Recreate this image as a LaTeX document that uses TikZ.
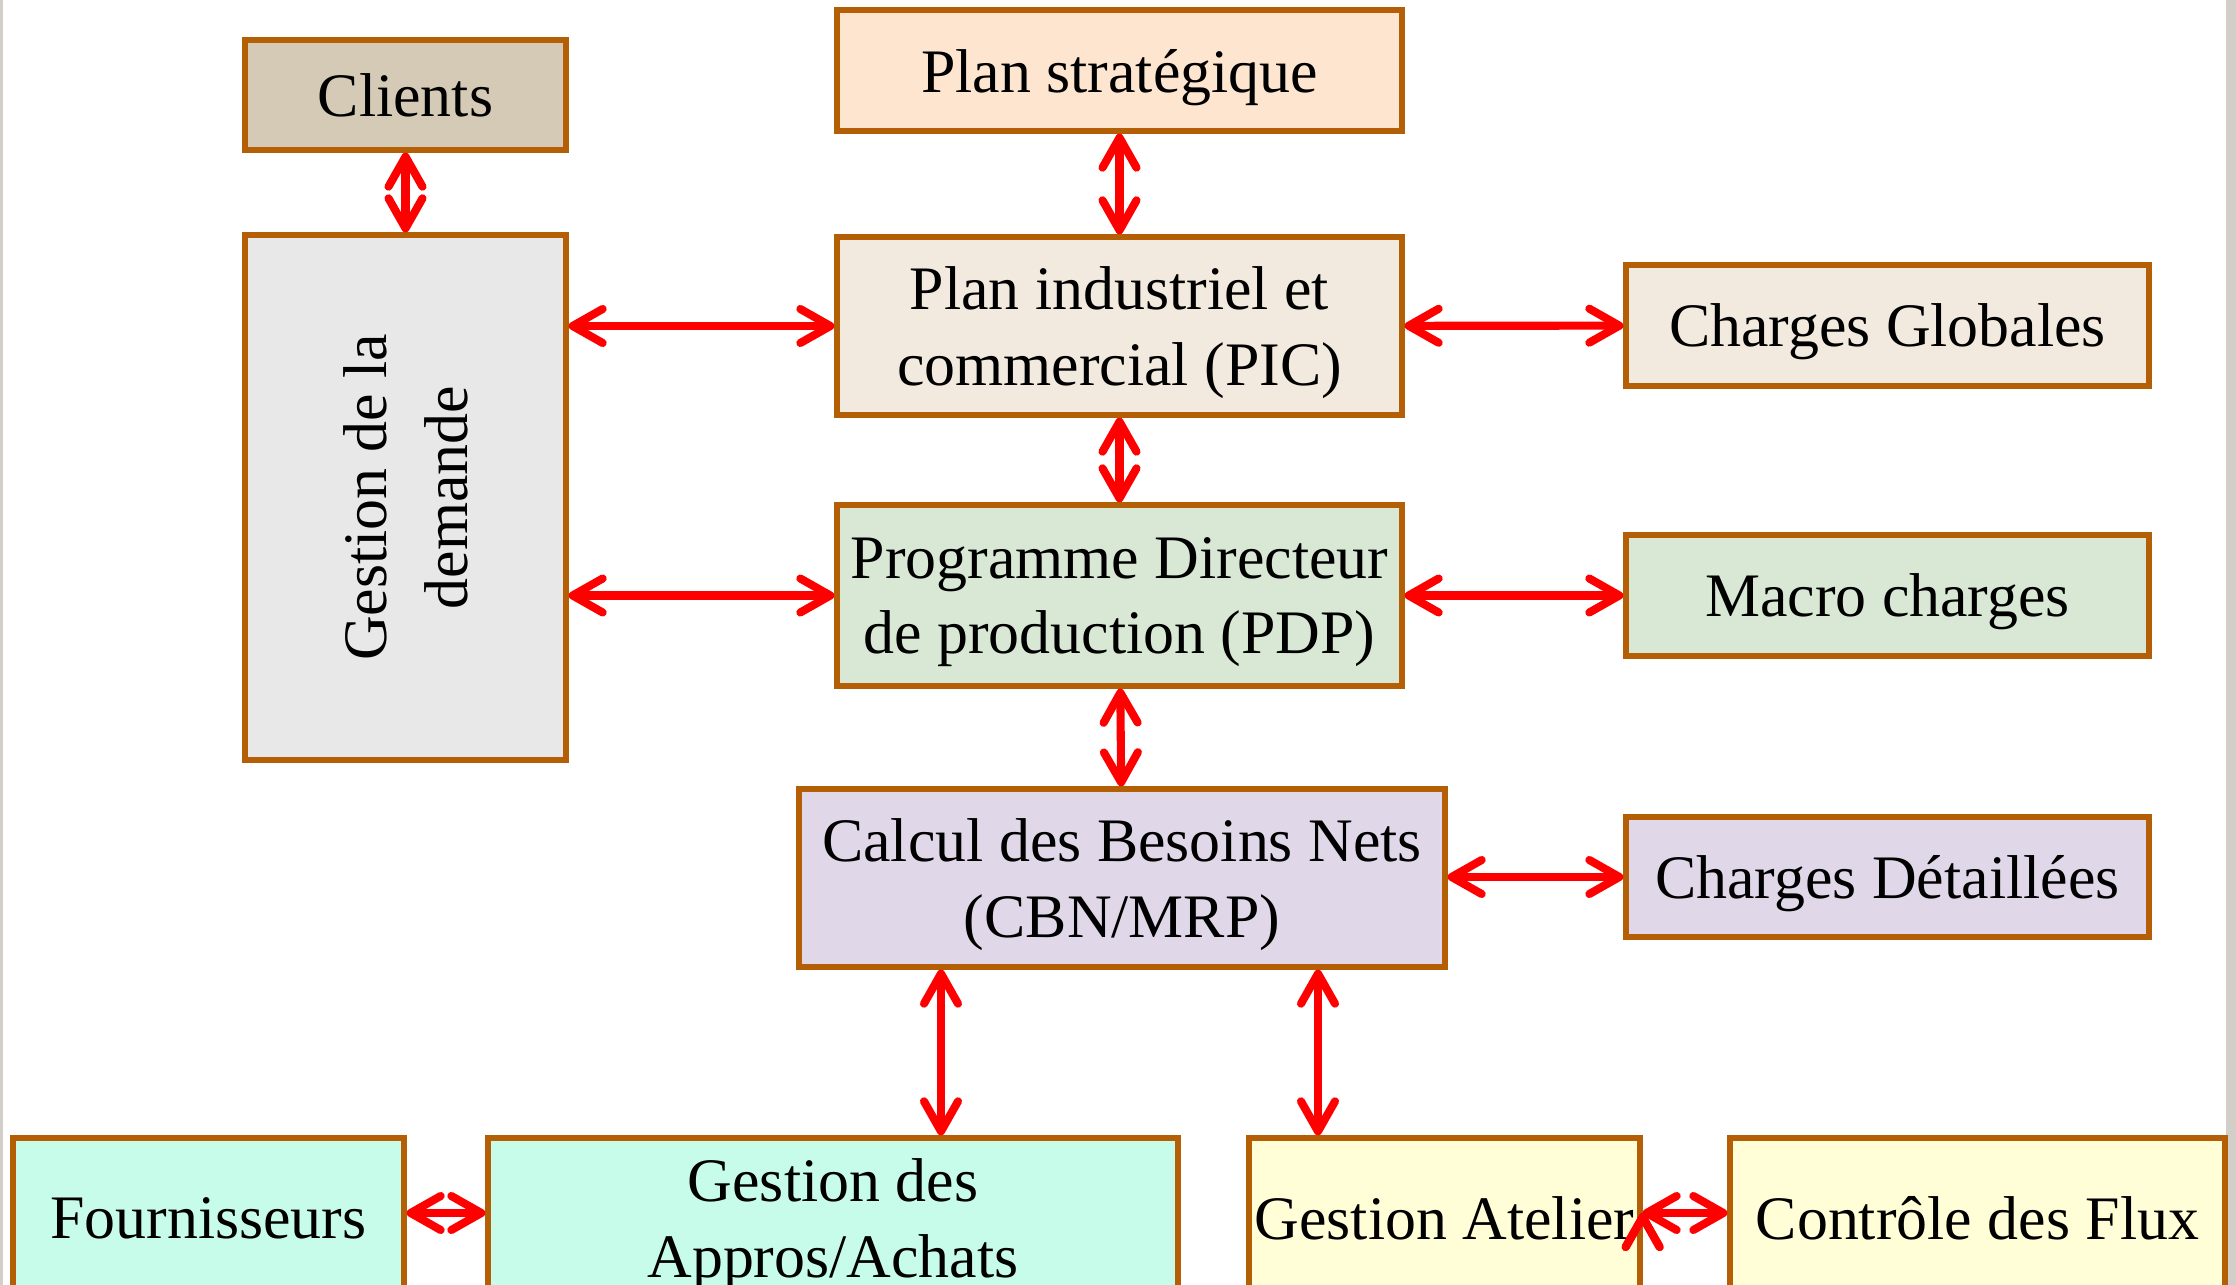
\documentclass[tikz,border=0pt]{standalone}
\usepackage{fontspec}
\setmainfont{Liberation Serif}
\usetikzlibrary{arrows.meta}

\definecolor{boxline}{RGB}{180,95,6}
\definecolor{clientfill}{RGB}{212,202,181}
\definecolor{stratfill}{RGB}{253,229,207}
\definecolor{demfill}{RGB}{232,232,232}
\definecolor{picfill}{RGB}{242,234,222}
\definecolor{pdpfill}{RGB}{216,232,213}
\definecolor{cbnfill}{RGB}{224,216,232}
\definecolor{achfill}{RGB}{200,252,234}
\definecolor{atelfill}{RGB}{255,254,214}
\definecolor{edgegray}{RGB}{210,206,200}

\begin{document}
\begin{tikzpicture}[x=1cm, y=1cm,
                    box/.style={rectangle, draw=boxline, line width=1.5pt, align=center,
                                inner sep=0pt, text depth=0pt, font=\fontsize{17.6}{21.5}\selectfont},
                    arr/.style={draw=red, line width=2.3pt,
                                {Straight Barb[length=0.3cm,width=0.34cm,round]}-{Straight Barb[length=0.3cm,width=0.34cm,round]}}]

  \useasboundingbox (0,0) rectangle (22.36,-12.85);
  \clip (0,0) rectangle (22.36,-12.85);

  % page edges
  \fill[edgegray] (0,0) rectangle (0.03,-12.85);
  \fill[edgegray] (22.26,0) rectangle (22.36,-12.85);

  % top rows
  \node[box, fill=clientfill, minimum width=3.21cm, minimum height=1.10cm] (clients) at (4.055,-0.95) {Clients};
  \node[box, fill=stratfill, minimum width=5.65cm, minimum height=1.21cm] (strat) at (11.195,-0.705) {Plan stratégique};
  \node[box, fill=demfill, minimum width=3.21cm, minimum height=5.25cm] (demande) at (4.055,-4.975) {};
  \node[font=\fontsize{17.6}{23}\selectfont, align=center, rotate=90] at (demande.center) {Gestion de la\\demande};
  \node[box, fill=picfill, minimum width=5.65cm, minimum height=1.78cm] (pic) at (11.195,-3.26) {Plan industriel et\\commercial (PIC)};
  \node[box, fill=picfill, minimum width=5.23cm, minimum height=1.21cm] (globales) at (18.875,-3.255) {Charges Globales};
  \node[box, fill=pdpfill, minimum width=5.65cm, minimum height=1.81cm] (pdp) at (11.195,-5.955) {Programme Directeur\\de production (PDP)};
  \node[box, fill=pdpfill, minimum width=5.23cm, minimum height=1.21cm] (macro) at (18.875,-5.955) {Macro charges};
  \node[box, fill=cbnfill, minimum width=6.46cm, minimum height=1.78cm] (cbn) at (11.22,-8.78) {Calcul des Besoins Nets\\(CBN/MRP)};
  \node[box, fill=cbnfill, minimum width=5.23cm, minimum height=1.20cm] (detail) at (18.875,-8.77) {Charges Détaillées};

  % bottom row
  \node[box, fill=achfill, minimum width=3.91cm, minimum height=1.60cm] (fourn) at (2.085,-12.18) {Fournisseurs};
  \node[box, fill=achfill, minimum width=6.90cm, minimum height=1.60cm] (appros) at (8.33,-12.18) {Gestion des\\Appros/Achats};
  \node[box, fill=atelfill, minimum width=3.91cm, minimum height=1.60cm] (atelier) at (14.445,-12.18) {Gestion Atelier};
  \node[box, fill=atelfill, minimum width=4.95cm, minimum height=1.60cm] (flux) at (19.775,-12.18) {Contrôle des Flux};

  \path[arr]
  (clients) edge (demande)
  (strat) edge (pic)
  (pic) edge (pdp)
  (pdp) edge (cbn)
  (demande.east |- pic.west) edge (pic.west)
  (demande.east |- pdp.west) edge (pdp.west)
  (pic) edge (globales)
  (pdp) edge (macro)
  (cbn.east |- detail.west) edge (detail.west)
  ([xshift=-1.81cm]cbn.south) edge ([xshift=-1.81cm]cbn.south |- appros.north)
  ([xshift=1.96cm]cbn.south) edge ([xshift=1.96cm]cbn.south |- atelier.north)
  ([yshift=0.05cm]fourn.east) edge ([yshift=0.05cm]appros.west)
  ([yshift=0.05cm]atelier.east) edge ([yshift=0.05cm]flux.west)
  ;
\end{tikzpicture}
\end{document}
